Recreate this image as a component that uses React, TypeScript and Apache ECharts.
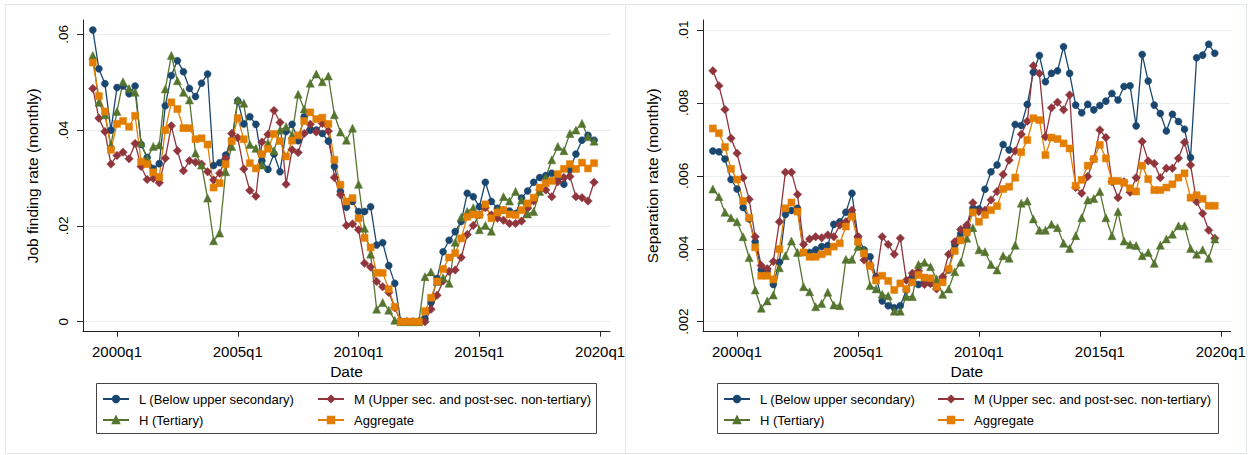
import React, { useEffect, useRef } from "react";
import * as echarts from "echarts";

// Quarterly data 1999q1 .. 2019q4 (84 quarters)
const START_YEAR = 1999;
const N_QUARTERS = 84;
const quarterPos = Array.from({ length: N_QUARTERS }, (_, i) => START_YEAR + i / 4);

const xTickYears = [2000, 2005, 2010, 2015, 2020];
const jfTicks = [0, 0.02, 0.04, 0.06];
const sepTicks = [0.002, 0.004, 0.006, 0.008, 0.01];

const NAME_L = "L (Below upper secondary)";
const NAME_M = "M (Upper sec. and post-sec. non-tertiary)";
const NAME_H = "H (Tertiary)";
const NAME_A = "Aggregate";

// Job finding rate (monthly)
const jfL = [
  0.0609, 0.0528, 0.0497, 0.0400, 0.0489, 0.0492, 0.0476, 0.0492, 0.0370, 0.0343,
  0.0320, 0.0330, 0.0451, 0.0514, 0.0545, 0.0522, 0.0487, 0.0470, 0.0498, 0.0517,
  0.0326, 0.0332, 0.0348, 0.0380, 0.0461, 0.0413, 0.0428, 0.0412, 0.0336, 0.0318,
  0.0350, 0.0313, 0.0397, 0.0412, 0.0378, 0.0428, 0.0400, 0.0400, 0.0393, 0.0377,
  0.0324, 0.0272, 0.0239, 0.0251, 0.0230, 0.0230, 0.0240, 0.0160, 0.0165, 0.0117,
  0.0080, 0.0000, 0.0000, 0.0000, 0.0000, 0.0006, 0.0040, 0.0090, 0.0146, 0.0170,
  0.0188, 0.0209, 0.0268, 0.0261, 0.0240, 0.0291, 0.0251, 0.0237, 0.0233, 0.0231,
  0.0226, 0.0258, 0.0273, 0.0291, 0.0301, 0.0305, 0.0310, 0.0299, 0.0287, 0.0317,
  0.0350, 0.0379, 0.0389, 0.0379,
];
const jfM = [
  0.0487, 0.0425, 0.0397, 0.0329, 0.0347, 0.0354, 0.0340, 0.0372, 0.0324, 0.0297,
  0.0299, 0.0290, 0.0341, 0.0409, 0.0357, 0.0315, 0.0336, 0.0333, 0.0329, 0.0313,
  0.0296, 0.0310, 0.0341, 0.0393, 0.0384, 0.0319, 0.0274, 0.0262, 0.0375, 0.0391,
  0.0441, 0.0416, 0.0287, 0.0359, 0.0353, 0.0393, 0.0412, 0.0396, 0.0414, 0.0398,
  0.0301, 0.0265, 0.0201, 0.0204, 0.0192, 0.0122, 0.0114, 0.0084, 0.0073, 0.0061,
  0.0029, 0.0000, 0.0000, 0.0000, 0.0000, 0.0000, 0.0026, 0.0055, 0.0085, 0.0105,
  0.0108, 0.0134, 0.0182, 0.0201, 0.0223, 0.0238, 0.0223, 0.0216, 0.0212, 0.0205,
  0.0205, 0.0210, 0.0237, 0.0252, 0.0275, 0.0275, 0.0261, 0.0292, 0.0301, 0.0303,
  0.0261, 0.0259, 0.0252, 0.0291,
];
const jfH = [
  0.0556, 0.0458, 0.0432, 0.0369, 0.0439, 0.0501, 0.0487, 0.0479, 0.0373, 0.0341,
  0.0366, 0.0369, 0.0486, 0.0556, 0.0503, 0.0479, 0.0463, 0.0352, 0.0327, 0.0258,
  0.0169, 0.0185, 0.0313, 0.0366, 0.0463, 0.0456, 0.0370, 0.0362, 0.0327, 0.0373,
  0.0357, 0.0400, 0.0407, 0.0390, 0.0475, 0.0444, 0.0498, 0.0517, 0.0501, 0.0513,
  0.0432, 0.0396, 0.0379, 0.0404, 0.0287, 0.0195, 0.0141, 0.0026, 0.0040, 0.0024,
  0.0003, 0.0000, 0.0000, 0.0000, 0.0000, 0.0094, 0.0104, 0.0084, 0.0092, 0.0080,
  0.0166, 0.0218, 0.0230, 0.0238, 0.0192, 0.0201, 0.0189, 0.0233, 0.0261, 0.0252,
  0.0272, 0.0254, 0.0225, 0.0230, 0.0272, 0.0301, 0.0338, 0.0366, 0.0357, 0.0393,
  0.0400, 0.0414, 0.0386, 0.0377,
];
const jfA = [
  0.0541, 0.0471, 0.0439, 0.0359, 0.0413, 0.0419, 0.0407, 0.0430, 0.0334, 0.0329,
  0.0312, 0.0302, 0.0400, 0.0458, 0.0444, 0.0404, 0.0404, 0.0381, 0.0383, 0.0370,
  0.0280, 0.0289, 0.0329, 0.0377, 0.0425, 0.0381, 0.0331, 0.0320, 0.0350, 0.0361,
  0.0392, 0.0377, 0.0345, 0.0378, 0.0389, 0.0419, 0.0437, 0.0423, 0.0426, 0.0413,
  0.0338, 0.0286, 0.0251, 0.0258, 0.0216, 0.0175, 0.0155, 0.0102, 0.0102, 0.0068,
  0.0031, 0.0000, 0.0000, 0.0000, 0.0000, 0.0022, 0.0050, 0.0084, 0.0110, 0.0134,
  0.0143, 0.0174, 0.0219, 0.0224, 0.0223, 0.0245, 0.0216, 0.0228, 0.0233, 0.0224,
  0.0223, 0.0233, 0.0247, 0.0259, 0.0280, 0.0289, 0.0294, 0.0308, 0.0319, 0.0329,
  0.0319, 0.0332, 0.0320, 0.0331,
];

// Separation rate (monthly)
const sepL = [
  0.00668, 0.00666, 0.00646, 0.00590, 0.00564, 0.00513, 0.00482, 0.00419, 0.00342, 0.00339,
  0.00302, 0.00363, 0.00494, 0.00505, 0.00511, 0.00390, 0.00390, 0.00397, 0.00406, 0.00409,
  0.00467, 0.00474, 0.00500, 0.00552, 0.00433, 0.00397, 0.00378, 0.00323, 0.00257, 0.00244,
  0.00238, 0.00244, 0.00287, 0.00323, 0.00302, 0.00310, 0.00305, 0.00302, 0.00319, 0.00342,
  0.00412, 0.00442, 0.00458, 0.00511, 0.00509, 0.00563, 0.00611, 0.00630, 0.00686, 0.00671,
  0.00741, 0.00738, 0.00796, 0.00884, 0.00930, 0.00858, 0.00881, 0.00888, 0.00954, 0.00881,
  0.00794, 0.00773, 0.00796, 0.00781, 0.00793, 0.00805, 0.00826, 0.00808, 0.00845, 0.00847,
  0.00737, 0.00933, 0.00860, 0.00794, 0.00771, 0.00723, 0.00769, 0.00749, 0.00728, 0.00650,
  0.00924, 0.00931, 0.00961, 0.00936,
];
const sepM = [
  0.00888, 0.00847, 0.00782, 0.00703, 0.00662, 0.00595, 0.00536, 0.00433, 0.00354, 0.00345,
  0.00365, 0.00474, 0.00610, 0.00610, 0.00549, 0.00412, 0.00427, 0.00433, 0.00430, 0.00438,
  0.00433, 0.00465, 0.00474, 0.00506, 0.00433, 0.00369, 0.00355, 0.00320, 0.00433, 0.00412,
  0.00385, 0.00429, 0.00314, 0.00333, 0.00339, 0.00302, 0.00305, 0.00290, 0.00323, 0.00385,
  0.00419, 0.00453, 0.00465, 0.00526, 0.00502, 0.00506, 0.00534, 0.00557, 0.00604, 0.00643,
  0.00668, 0.00714, 0.00750, 0.00902, 0.00881, 0.00707, 0.00787, 0.00802, 0.00781, 0.00822,
  0.00568, 0.00552, 0.00598, 0.00646, 0.00726, 0.00705, 0.00584, 0.00540, 0.00584, 0.00555,
  0.00595, 0.00694, 0.00641, 0.00634, 0.00595, 0.00621, 0.00621, 0.00648, 0.00692, 0.00630,
  0.00529, 0.00497, 0.00451, 0.00429,
];
const sepH = [
  0.00564, 0.00543, 0.00500, 0.00485, 0.00474, 0.00433, 0.00376, 0.00287, 0.00237, 0.00257,
  0.00273, 0.00348, 0.00381, 0.00421, 0.00390, 0.00296, 0.00282, 0.00241, 0.00250, 0.00281,
  0.00246, 0.00244, 0.00371, 0.00371, 0.00406, 0.00397, 0.00299, 0.00290, 0.00275, 0.00271,
  0.00229, 0.00229, 0.00269, 0.00269, 0.00357, 0.00363, 0.00351, 0.00317, 0.00275, 0.00290,
  0.00337, 0.00363, 0.00429, 0.00458, 0.00397, 0.00392, 0.00357, 0.00342, 0.00381, 0.00374,
  0.00410, 0.00525, 0.00531, 0.00482, 0.00451, 0.00451, 0.00467, 0.00458, 0.00415, 0.00401,
  0.00436, 0.00485, 0.00534, 0.00538, 0.00557, 0.00485, 0.00436, 0.00502, 0.00421, 0.00412,
  0.00409, 0.00381, 0.00390, 0.00360, 0.00410, 0.00427, 0.00440, 0.00463, 0.00463, 0.00401,
  0.00385, 0.00397, 0.00374, 0.00427,
];
const sepA = [
  0.00730, 0.00717, 0.00679, 0.00619, 0.00590, 0.00531, 0.00485, 0.00404, 0.00326, 0.00326,
  0.00316, 0.00399, 0.00511, 0.00527, 0.00502, 0.00390, 0.00378, 0.00378, 0.00385, 0.00392,
  0.00406, 0.00415, 0.00461, 0.00488, 0.00419, 0.00387, 0.00353, 0.00313, 0.00326, 0.00312,
  0.00287, 0.00305, 0.00290, 0.00308, 0.00328, 0.00321, 0.00319, 0.00296, 0.00308, 0.00345,
  0.00394, 0.00423, 0.00445, 0.00500, 0.00474, 0.00493, 0.00506, 0.00517, 0.00564, 0.00570,
  0.00595, 0.00665, 0.00698, 0.00758, 0.00753, 0.00657, 0.00705, 0.00701, 0.00689, 0.00675,
  0.00573, 0.00589, 0.00628, 0.00646, 0.00685, 0.00648, 0.00586, 0.00586, 0.00581, 0.00566,
  0.00557, 0.00628, 0.00591, 0.00561, 0.00561, 0.00568, 0.00577, 0.00595, 0.00607, 0.00540,
  0.00547, 0.00537, 0.00518, 0.00518,
];

const COLORS = { L: "#1a476f", M: "#90353b", H: "#55752f", A: "#e37e00" };
const FONT = '"Liberation Sans", Arial, Helvetica, sans-serif';

function pairs(vals: number[]) {
  return vals.map((v, i) => [quarterPos[i], v]);
}

function yFmt(v: number) {
  if (Math.abs(v) < 1e-12) return "0";
  return String(+v.toPrecision(6)).replace(/^0\./, ".");
}

function makeSeries(idx: number, name: string, vals: number[], color: string, symbol: string, size: number) {
  return {
    type: "line",
    name,
    xAxisIndex: idx,
    yAxisIndex: idx,
    data: pairs(vals),
    symbol,
    symbolSize: size,
    showSymbol: true,
    lineStyle: { color, width: 1.3 },
    itemStyle: { color, borderColor: color, borderWidth: 0.5 },
    emphasis: { disabled: true },
  };
}

function xAxisCfg(gridIndex: number) {
  return {
    type: "value",
    gridIndex,
    min: 1998.593,
    max: 2020.41,
    name: "Date",
    nameLocation: "middle",
    nameGap: 25,
    nameTextStyle: { fontFamily: FONT, fontSize: 15.5, color: "#000" },
    axisLine: { show: true, onZero: false, lineStyle: { color: "#222", width: 1 } },
    axisTick: { show: true, length: 5, customValues: xTickYears, lineStyle: { color: "#222" } },
    axisLabel: {
      customValues: xTickYears,
      formatter: (v: number) => `${Math.round(v)}q1`,
      fontFamily: FONT,
      fontSize: 15,
      color: "#000",
      margin: 12,
    },
    splitLine: { show: false },
  };
}

function yAxisCfg(gridIndex: number, min: number, max: number, ticks: number[], name: string) {
  return {
    type: "value",
    gridIndex,
    min,
    max,
    name,
    nameLocation: "middle",
    nameRotate: 90,
    nameGap: 43,
    nameTextStyle: { fontFamily: FONT, fontSize: 15.5, color: "#000" },
    axisLine: { show: true, lineStyle: { color: "#222", width: 1 } },
    axisTick: { show: true, length: 6, customValues: ticks, lineStyle: { color: "#222" } },
    axisLabel: {
      customValues: ticks,
      formatter: yFmt,
      rotate: 90,
      fontFamily: FONT,
      fontSize: 13.5,
      color: "#000",
      margin: 13,
    },
    splitLine: { show: true, lineStyle: { color: "#e6eef0", width: 1 } },
  };
}

function legendCfg(left: number, names: string[]) {
  return {
    orient: "vertical",
    left,
    top: 392,
    padding: 0,
    itemWidth: 26,
    itemHeight: 8,
    itemGap: 7,
    selectedMode: false,
    data: names,
    textStyle: { fontFamily: FONT, fontSize: 13, color: "#000", lineHeight: 14, padding: [0, 0, 0, 5] },
  };
}

export default function App() {
  const ref = useRef<HTMLDivElement>(null);
  useEffect(() => {
    if (!ref.current) return;
    const chart = echarts.init(ref.current, undefined, { renderer: "svg" });
    const option = {
      animation: false,
      backgroundColor: "#ffffff",
      grid: [
        { left: 83, right: 645, top: 20, bottom: 123.3 },
        { left: 703, right: 24.3, top: 20, bottom: 123.3 },
      ],
      xAxis: [xAxisCfg(0), xAxisCfg(1)],
      yAxis: [
        yAxisCfg(0, -0.00209, 0.06299, jfTicks, "Job finding rate (monthly)"),
        yAxisCfg(1, 0.001726, 0.010274, sepTicks, "Separation rate (monthly)"),
      ],
      legend: [
        legendCfg(102, [NAME_L, NAME_H]),
        legendCfg(317, [NAME_M, NAME_A]),
        legendCfg(723, [NAME_L, NAME_H]),
        legendCfg(937, [NAME_M, NAME_A]),
      ],
      graphic: [
        { type: "rect", shape: { x: 5.5, y: 4.5, width: 620, height: 449 }, style: { fill: "none", stroke: "#dfe7ec", lineWidth: 1 }, silent: true },
        { type: "rect", shape: { x: 625.5, y: 4.5, width: 621, height: 449 }, style: { fill: "none", stroke: "#dfe7ec", lineWidth: 1 }, silent: true },
        { type: "rect", shape: { x: 96.5, y: 383.5, width: 500, height: 50 }, style: { fill: "none", stroke: "#444", lineWidth: 1 }, silent: true },
        { type: "rect", shape: { x: 717.5, y: 383.5, width: 501, height: 50 }, style: { fill: "none", stroke: "#444", lineWidth: 1 }, silent: true },
      ],
      series: [
        makeSeries(0, NAME_L, jfL, COLORS.L, "circle", 7),
        makeSeries(0, NAME_M, jfM, COLORS.M, "diamond", 8.5),
        makeSeries(0, NAME_H, jfH, COLORS.H, "triangle", 8),
        makeSeries(0, NAME_A, jfA, COLORS.A, "rect", 7),
        makeSeries(1, NAME_L, sepL, COLORS.L, "circle", 7),
        makeSeries(1, NAME_M, sepM, COLORS.M, "diamond", 8.5),
        makeSeries(1, NAME_H, sepH, COLORS.H, "triangle", 8),
        makeSeries(1, NAME_A, sepA, COLORS.A, "rect", 7),
      ],
    };
    chart.setOption(option as any);
    return () => chart.dispose();
  }, []);
  return (
    <div
      ref={ref}
      style={{ position: "fixed", left: 0, top: 0, width: 1255, height: 455, background: "#fff" }}
    />
  );
}
